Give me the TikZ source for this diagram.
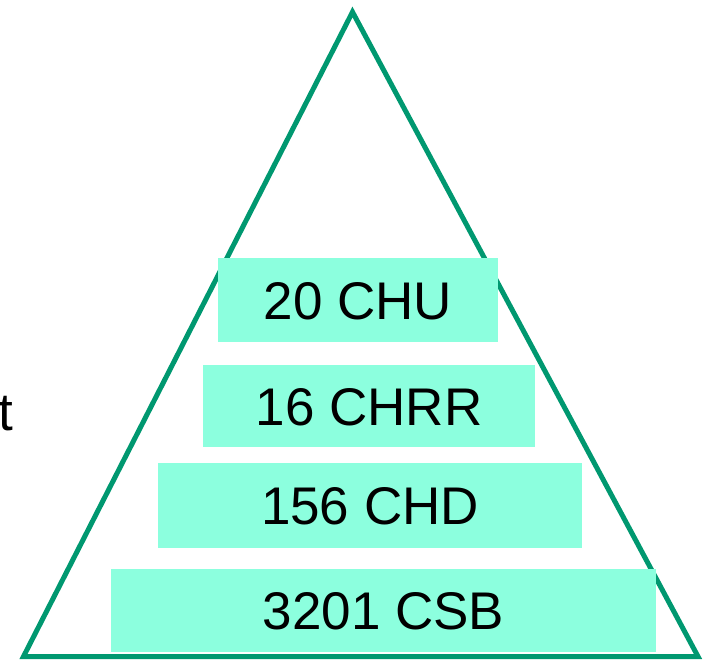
\documentclass[tikz,border=0pt]{standalone}
\usepackage{fontspec}
\setmainfont{Liberation Sans}
\definecolor{triline}{RGB}{0,152,112}
\definecolor{boxfill}{RGB}{140,255,222}
\begin{document}
\begin{tikzpicture}[x=1pt,y=-1pt,
  tri/.style={draw=triline,line width=5pt,line join=miter},
  layer/.style={fill=boxfill,draw=none,rectangle,inner sep=0pt,
    font=\fontsize{53}{62}\selectfont,text height=38pt,text depth=0pt},
  side/.style={inner sep=0pt,font=\fontsize{53}{62}\selectfont}]
\useasboundingbox (0,0) rectangle (712,661);
\coordinate (apex) at (352.5,12);
\coordinate (bl) at (23.5,656.5);
\coordinate (br) at (698,656.5);
\draw[tri] (apex) -- (bl) -- (br) -- cycle;
\node[layer,minimum width=280pt,minimum height=84pt] (b1) at (358,300) {20 CHU};
\node[layer,minimum width=332pt,minimum height=82pt] (b2) at (369,406) {16 CHRR};
\node[layer,minimum width=424pt,minimum height=85pt] (b3) at (370,505.5) {156 CHD};
\node[layer,minimum width=545pt,minimum height=83pt] (b4) at (383.5,610.5) {3201 CSB};
\node[side,anchor=base west] (lbl) at (-2,430) {t};
\end{tikzpicture}
\end{document}
